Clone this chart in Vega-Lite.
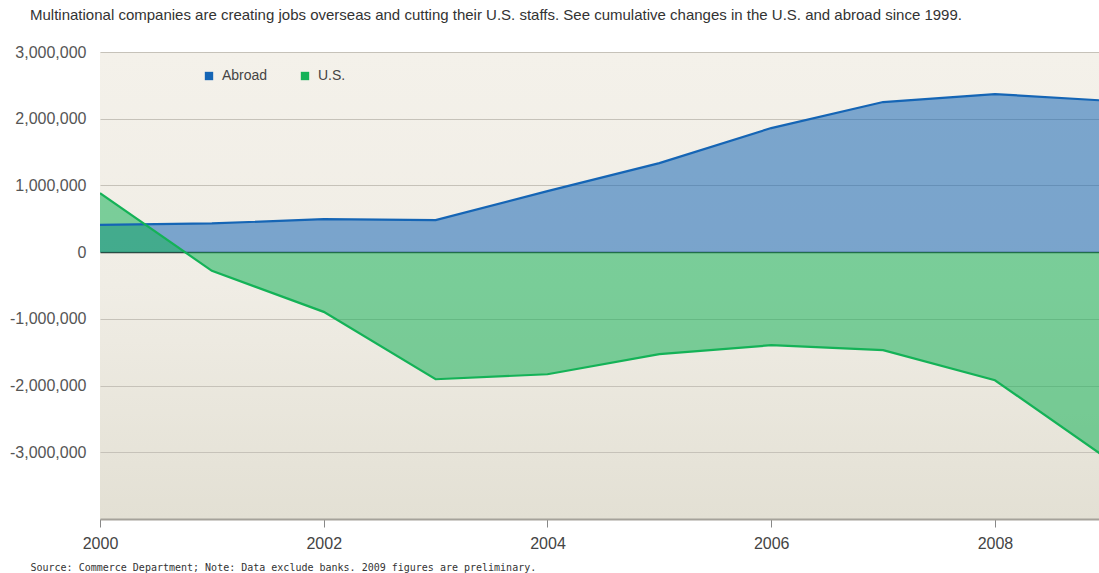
{
  "$schema": "https://vega.github.io/schema/vega-lite/v6.json",
  "autosize": {"type": "none"},
  "width": 999,
  "height": 467,
  "padding": {"left": 100, "top": 52, "right": 0, "bottom": 54},
  "background": "#ffffff",
  "title": {
    "text": "Multinational companies are creating jobs overseas and cutting their U.S. staffs. See cumulative changes in the U.S. and abroad since 1999.",
    "anchor": "start",
    "frame": "group",
    "dx": -70,
    "offset": 21,
    "font": "Liberation Sans",
    "fontSize": 15,
    "fontWeight": "normal",
    "color": "#333333"
  },
  "config": {
    "view": {
      "stroke": null,
      "fill": {
        "gradient": "linear",
        "x1": 0, "y1": 0, "x2": 0, "y2": 1,
        "stops": [
          {"offset": 0, "color": "#f4f1ea"},
          {"offset": 0.5, "color": "#f0ede5"},
          {"offset": 1, "color": "#e3e0d4"}
        ]
      }
    }
  },
  "data": {
    "values": [
      {"year": 2000, "series": "Abroad", "jobs": 410000},
      {"year": 2001, "series": "Abroad", "jobs": 430000},
      {"year": 2002, "series": "Abroad", "jobs": 495000},
      {"year": 2003, "series": "Abroad", "jobs": 480000},
      {"year": 2004, "series": "Abroad", "jobs": 915000},
      {"year": 2005, "series": "Abroad", "jobs": 1335000},
      {"year": 2006, "series": "Abroad", "jobs": 1860000},
      {"year": 2007, "series": "Abroad", "jobs": 2250000},
      {"year": 2008, "series": "Abroad", "jobs": 2370000},
      {"year": 2009, "series": "Abroad", "jobs": 2270000},
      {"year": 2000, "series": "U.S.", "jobs": 885000},
      {"year": 2001, "series": "U.S.", "jobs": -280000},
      {"year": 2002, "series": "U.S.", "jobs": -895000},
      {"year": 2003, "series": "U.S.", "jobs": -1905000},
      {"year": 2004, "series": "U.S.", "jobs": -1830000},
      {"year": 2005, "series": "U.S.", "jobs": -1530000},
      {"year": 2006, "series": "U.S.", "jobs": -1395000},
      {"year": 2007, "series": "U.S.", "jobs": -1470000},
      {"year": 2008, "series": "U.S.", "jobs": -1920000},
      {"year": 2009, "series": "U.S.", "jobs": -3090000}
    ]
  },
  "encoding": {
    "x": {
      "field": "year",
      "type": "quantitative",
      "scale": {"domain": [2000, 2008.93], "nice": false, "zero": false},
      "axis": {
        "values": [2000, 2002, 2004, 2006, 2008],
        "format": "d",
        "grid": false,
        "labelFlush": false,
        "domainColor": "#a5a29a",
        "domainWidth": 2,
        "tickColor": "#888888",
        "tickSize": 8,
        "labelFont": "Liberation Sans",
        "labelFontSize": 16,
        "labelColor": "#444444",
        "labelPadding": 8,
        "title": "Source: Commerce Department; Note: Data exclude banks. 2009 figures are preliminary.",
        "titleFont": "DejaVu Sans Mono",
        "titleFontSize": 10,
        "titleFontWeight": "normal",
        "titleColor": "#333333",
        "titleAlign": "left",
        "titleAnchor": "start",
        "titleBaseline": "alphabetic",
        "titleX": -70,
        "titleY": 51
      }
    },
    "y": {
      "field": "jobs",
      "type": "quantitative",
      "stack": null,
      "scale": {"domain": [-4000000, 3000000], "nice": false},
      "axis": {
        "values": [-4000000, -3000000, -2000000, -1000000, 0, 1000000, 2000000, 3000000],
        "labelExpr": "datum.value <= -4000000 ? '' : replace(format(datum.value, ','), '\u2212', '-')",
        "domain": false,
        "ticks": false,
        "labelFont": "Liberation Sans",
        "labelFontSize": 16,
        "labelColor": "#555555",
        "labelPadding": 14,
        "gridColor": {"condition": {"test": "datum.value === 0", "value": "#2f3a33"}, "value": "#c6c2b9"},
        "gridWidth": {"condition": {"test": "datum.value === 0", "value": 1.5}, "value": 1.2},
        "title": null
      }
    },
    "color": {
      "field": "series",
      "type": "nominal",
      "scale": {"domain": ["Abroad", "U.S."], "range": ["#1565b5", "#14b257"]},
      "legend": {
        "orient": "none",
        "legendX": 102,
        "legendY": 17,
        "direction": "horizontal",
        "title": null,
        "symbolType": "square",
        "symbolSize": 70,
        "symbolOpacity": 1,
        "symbolStrokeWidth": 0,
        "labelFont": "Liberation Sans",
        "labelFontSize": 14,
        "labelColor": "#444444",
        "labelOffset": 6,
        "columnPadding": 30
      }
    }
  },
  "layer": [
    {
      "mark": {"type": "area", "opacity": 0.54, "clip": true},
      "encoding": {"detail": {"field": "series"}}
    },
    {
      "mark": {"type": "line", "strokeWidth": 2.2, "clip": true},
      "encoding": {}
    }
  ]
}
